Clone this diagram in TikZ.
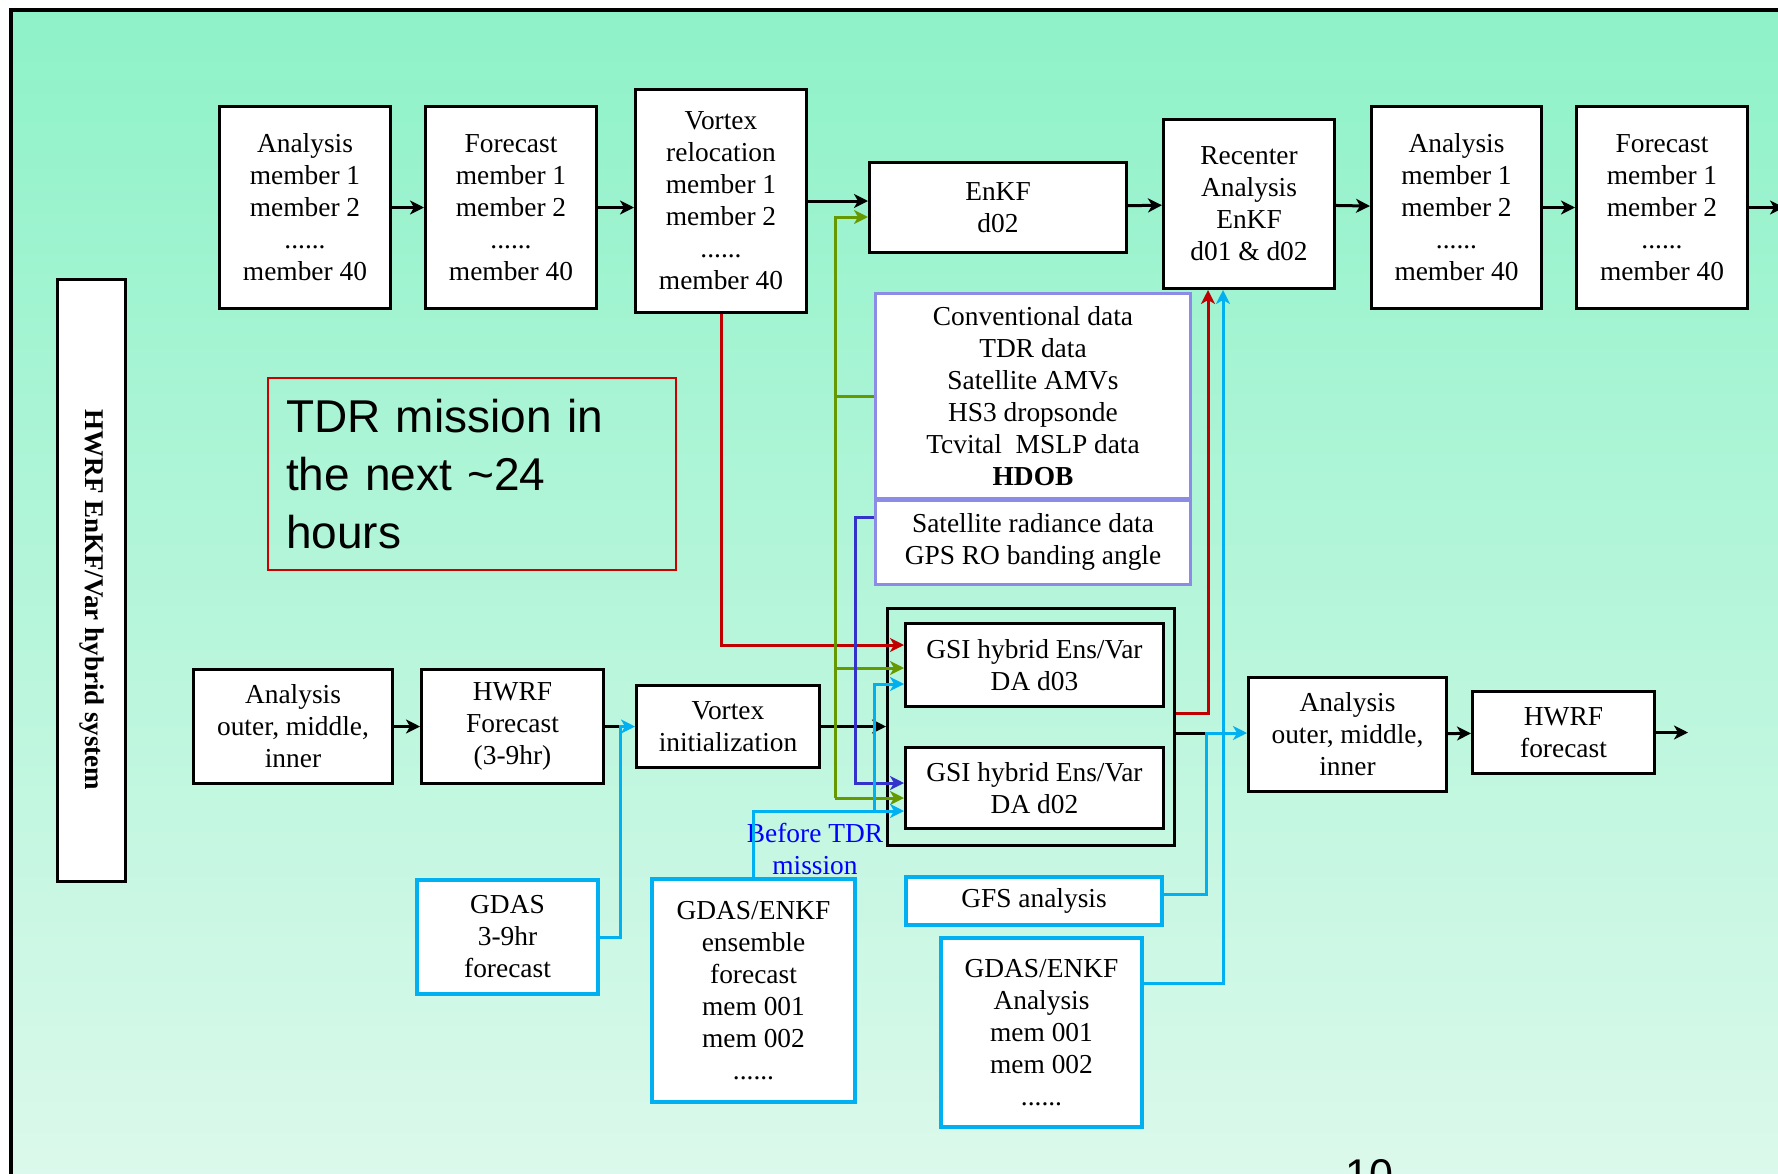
\documentclass[tikz,border=0pt]{standalone}
\usepackage{fontspec}
\setmainfont{Liberation Serif}
\newfontfamily\sansfont{Liberation Sans}
\usetikzlibrary{arrows.meta}

\definecolor{bgtop}{RGB}{142,242,200}
\definecolor{bgbot}{RGB}{220,249,236}
\definecolor{skyline}{RGB}{0,176,240}
\definecolor{redline}{RGB}{192,0,0}
\definecolor{greenline}{RGB}{102,153,0}
\definecolor{blueline}{RGB}{51,51,204}
\definecolor{lavender}{RGB}{140,140,230}
\definecolor{notered}{RGB}{204,0,0}

\tikzset{
  box/.style={draw=black, fill=white, line width=3pt, inner sep=0pt, align=center,
    font=\fontsize{27.4}{32}\selectfont},
  skybox/.style={box, draw=skyline, line width=3.5pt},
  databox/.style={box, draw=lavender},
  wire/.style={line width=3pt},
  link/.style={wire, -{Stealth[length=14pt,width=14pt,inset=4pt]}},
}

\begin{document}
\begin{tikzpicture}[x=1pt,y=-1pt]
\clip (0,0) rectangle (1778,1173);
\fill[white] (0,0) rectangle (1778,1173);
\shade[top color=bgtop, bottom color=bgbot] (11,10) rectangle (1790,1185);
\draw[line width=3.5pt] (1790,10) -- (11,10) -- (11,1185);

% top row
\node[box, minimum width=171pt, minimum height=202pt] (A1) at (305,207.5) {Analysis\\member 1\\member 2\\......\\member 40};
\node[box, minimum width=171pt, minimum height=202pt] (F1) at (511,207.5) {Forecast\\member 1\\member 2\\......\\member 40};
\node[box, minimum width=171pt, minimum height=223pt] (V1) at (721,201) {Vortex\\relocation\\member 1\\member 2\\......\\member 40};
\node[box, minimum width=257pt, minimum height=90pt] (E) at (998,207.5) {EnKF\\d02};
\node[box, minimum width=171pt, minimum height=169pt] (R) at (1249,204) {Recenter\\Analysis\\EnKF\\d01 \& d02};
\node[box, minimum width=170pt, minimum height=202pt] (A2) at (1456.5,207.5) {Analysis\\member 1\\member 2\\......\\member 40};
\node[box, minimum width=171pt, minimum height=202pt] (F2) at (1662,207.5) {Forecast\\member 1\\member 2\\......\\member 40};
\coordinate (out1) at (1784,207.5);

% side label and note
\node[box, minimum width=68pt, minimum height=602pt] (side) at (91.5,580.5) {};
\node[rotate=-90, inner sep=0pt, font=\fontsize{27}{32}\bfseries] (sidetext) at (91.5,600) {HWRF EnKF/Var hybrid system};
\node[draw=notered, line width=1.5pt, minimum width=408pt, minimum height=192pt, text width=372pt, inner xsep=18pt, inner ysep=0pt, align=left,
  font=\sansfont\fontsize{46}{58}\selectfont] (tdr) at (472,474) {TDR mission in\\the next \textasciitilde24\\hours};

% observations
\node[databox, minimum width=315pt, minimum height=205pt] (dtop) at (1033,396) {Conventional data\\TDR data\\Satellite AMVs\\HS3 dropsonde\\Tcvital\ \ MSLP data\\\textbf{HDOB}};
\node[databox, minimum width=315pt, minimum height=84pt] (dbot) at (1033,542) {Satellite radiance data\\GPS RO banding angle};

% GSI
\node[draw, line width=3pt, minimum width=287pt, minimum height=237pt] (gsi) at (1031,727) {};
\node[box, minimum width=258pt, minimum height=83pt] (d03) at (1034.5,665) {GSI hybrid Ens/Var\\DA d03};
\node[box, minimum width=258pt, minimum height=81pt] (d02) at (1034.5,788) {GSI hybrid Ens/Var\\DA d02};

% bottom row
\node[box, minimum width=199pt, minimum height=114pt] (AO) at (293,726.5) {Analysis\\outer, middle,\\inner};
\node[box, minimum width=182pt, minimum height=114pt] (HW) at (512.5,726.5) {HWRF\\Forecast\\(3-9hr)};
\node[box, minimum width=183pt, minimum height=82pt] (VI) at (728,726.5) {Vortex\\initialization};
\node[box, minimum width=198pt, minimum height=114pt] (A3) at (1347.5,734.5) {Analysis\\outer, middle,\\inner};
\node[box, minimum width=182pt, minimum height=82pt] (HF) at (1563.5,732.5) {HWRF\\forecast};
\coordinate (out2) at (1688,732.5);

% global inputs
\node[skybox, minimum width=181pt, minimum height=114pt] (GDAS) at (507.5,937) {GDAS\\3-9hr\\forecast};
\node[skybox, minimum width=203pt, minimum height=223pt] (ENS) at (753.5,990.5) {GDAS/ENKF\\ensemble\\forecast\\mem 001\\mem 002\\......};
\node[skybox, minimum width=256pt, minimum height=48pt] (GFS) at (1034,901) {GFS analysis};
\node[skybox, minimum width=201pt, minimum height=189pt] (GAN) at (1041.5,1032.5) {GDAS/ENKF\\Analysis\\mem 001\\mem 002\\......};
\node[font=\fontsize{27.4}{32}\selectfont, text=blue, align=center, inner sep=0pt] (before) at (815,849) {Before TDR\\mission};

% bends
\coordinate (g1) at (835,217);
\coordinate (g2) at (835,668);
\coordinate (g3) at (835,798);
\coordinate (r1) at (721,645);
\coordinate (r2) at (1208,713);
\coordinate (b1) at (855,517);
\coordinate (b2) at (855,783);
\coordinate (c1) at (620,726.5);
\coordinate (c2) at (753.5,811);
\coordinate (c3) at (874,811);
\coordinate (c4) at (874,684);
\coordinate (c5) at (1206,733);
\coordinate (c6) at (1223,983);
\coordinate (c7) at (1206,894);

% black flow
\draw[link] (A1) -- (F1);
\draw[link] (F1.east) -- (F1.east -| V1.west);
\draw[link] (V1.east) -- (V1.east -| E.west);
\draw[link] (E) -- (R);
\draw[link] (R) -- (A2);
\draw[link] (A2) -- (F2);
\draw[link] (F2) -- (out1);
\draw[link] (AO) -- (HW);
\draw[wire] (HW.east) -- (c1);
\draw[link] (VI.east) -- (VI.east -| gsi.west);
\draw[wire] (gsi.east |- c5) -- (c5);
\draw[link] (A3) -- (HF);
\draw[link] (HF) -- (out2);

% red
\draw[link, redline] (V1.south) -- (r1) -- (r1 -| d03.west);
\draw[link, redline] (r2 -| gsi.east) -- (r2) -- (r2 |- R.south);

% green
\draw[wire, greenline] (dtop.west) -- (dtop.west -| g1);
\draw[link, greenline] (g3) -- (g1) -- (g1 -| E.west);
\draw[link, greenline] (g2) -- (g2 -| d03.west);
\draw[link, greenline] (g3) -- (g3 -| d02.west);

% blue
\draw[link, blueline] (b1 -| dbot.west) -- (b1) -- (b2) -- (b2 -| d02.west);

% cyan
\draw[link, skyline] (GDAS.east) -- (GDAS.east -| c1) -- (c1) -- (c1 -| VI.west);
\draw[link, skyline] (ENS.north) -- (c2) -- (c2 -| d02.west);
\draw[link, skyline] (c3) -- (c4) -- (c4 -| d03.west);
\draw[link, skyline] (c7 -| GFS.east) -- (c7) -- (c5) -- (c5 -| A3.west);
\draw[link, skyline] (c6 -| GAN.east) -- (c6) -- (c6 |- R.south);

\node[anchor=base west, inner sep=0pt, font=\sansfont\fontsize{43}{50}\selectfont] (pagenum) at (1345,1189) {10};
\end{tikzpicture}
\end{document}
